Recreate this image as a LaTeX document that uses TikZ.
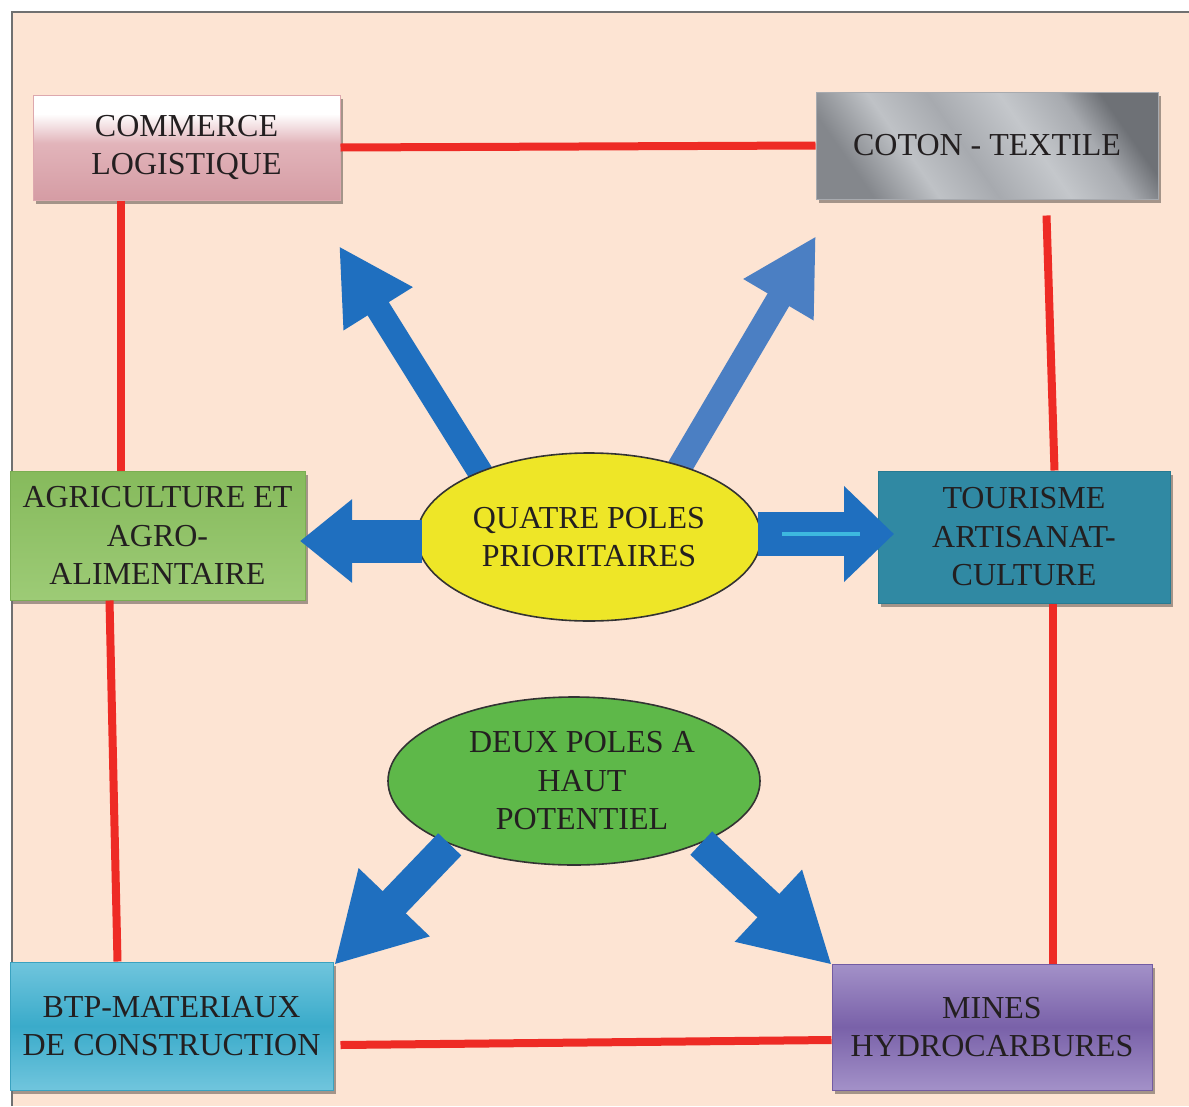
\documentclass[tikz,border=0pt]{standalone}
\usepackage{fontspec}
\setmainfont{Liberation Serif}
\usetikzlibrary{shapes.geometric,arrows.meta,shadows,calc}
\pgfdeclarelayer{bg}
\pgfsetlayers{bg,main}
\definecolor{peach}{HTML}{FDE4D3}
\definecolor{redl}{HTML}{EE2B25}
\definecolor{blueA}{HTML}{1F6FBF}
\definecolor{blueB}{HTML}{4B7FC3}
\definecolor{hilite}{HTML}{3DB8DF}
\definecolor{txt}{HTML}{231F20}
\definecolor{pkD}{HTML}{D59CA4}
\definecolor{pkM}{HTML}{E2B4BA}
\definecolor{pkB}{HTML}{DDA8AE}
\definecolor{mA}{HTML}{84878C}
\definecolor{mB}{HTML}{BFC2C6}
\definecolor{mC}{HTML}{A7AAAF}
\definecolor{mD}{HTML}{C4C7CB}
\definecolor{mE}{HTML}{6E7176}
\definecolor{grT}{HTML}{86BA5C}
\definecolor{grB}{HTML}{9DCB76}
\definecolor{grE}{HTML}{7AAE52}
\definecolor{teal}{HTML}{3089A3}
\definecolor{tealE}{HTML}{277A92}
\definecolor{cyM}{HTML}{3AABCA}
\definecolor{cyO}{HTML}{70C5DD}
\definecolor{cyE}{HTML}{3AA2C0}
\definecolor{puM}{HTML}{7961A9}
\definecolor{puO}{HTML}{A391C8}
\definecolor{puE}{HTML}{735CA3}
\definecolor{yel}{HTML}{EEE627}
\definecolor{grn}{HTML}{5EB849}
\definecolor{frame}{HTML}{707070}
\pgfdeclareverticalshading{comm}{100bp}{color(0bp)=(pkD); color(25bp)=(pkD); color(52bp)=(pkM); color(66bp)=(white); color(100bp)=(white)}
\pgfdeclarehorizontalshading{metal}{100bp}{color(0bp)=(mA); color(25bp)=(mA); color(36bp)=(mB); color(46bp)=(mC); color(58bp)=(mD); color(68bp)=(mC); color(75bp)=(mE); color(100bp)=(mE)}
\tikzset{
  box/.style={rectangle, inner sep=0pt, align=center, text=txt,
    font=\fontsize{32}{38.5}\selectfont, line width=1pt,
    drop shadow={shadow xshift=3pt, shadow yshift=-4pt, opacity=.35, fill=black}},
  pole/.style={ellipse, inner sep=0pt, align=center, text=txt,
    font=\fontsize{32}{38.5}\selectfont, draw=black!80, line width=1.6pt},
  link/.style={draw=redl, line width=8pt},
  fat/.style n args={3}{line width=#1, -{Triangle[length=#2, width=#3]}},
}
\begin{document}
\begin{tikzpicture}[x=1pt,y=-1pt]
\useasboundingbox (0,0) rectangle (1189,1106);
\begin{pgfonlayer}{bg}
\fill[white] (0,0) rectangle (1189,1106);
\fill[peach] (12,12) rectangle (1189,1106);
\draw[frame, line width=2.5pt] (12,1106) -- (12,12) -- (1189,12);
\end{pgfonlayer}

% boxes
\node[box, minimum width=307pt, minimum height=105pt, shading=comm, draw=pkB] (com) at (186.5,147.5) {COMMERCE\\LOGISTIQUE};
\node[box, minimum width=342pt, minimum height=107pt, shading=metal, shading angle=35, draw=mC] (cot) at (987,145.5) {COTON - TEXTILE};
\node[box, minimum width=295pt, minimum height=129pt, top color=grT, bottom color=grB, draw=grE] (agr) at (157.5,535.5) {AGRICULTURE ET\\AGRO-\\ALIMENTAIRE};
\node[box, minimum width=292pt, minimum height=132pt, fill=teal, draw=tealE] (tou) at (1024,537) {TOURISME\\ARTISANAT-\\CULTURE};
\node[box, minimum width=323pt, minimum height=128pt, top color=cyO, bottom color=cyO, middle color=cyM, draw=cyE] (btp) at (171.5,1026) {BTP-MATERIAUX\\DE CONSTRUCTION};
\node[box, minimum width=320pt, minimum height=126pt, top color=puO, bottom color=puO, middle color=puM, draw=puE] (min) at (992,1027) {MINES\\HYDROCARBURES};

% poles
\node[pole, fill=yel, minimum width=344pt, minimum height=168pt] (q) at (589,537) {QUATRE POLES\\PRIORITAIRES};
\node[pole, fill=grn, minimum width=372pt, minimum height=168pt] (d) at (574,781) {\hspace*{16pt}DEUX POLES A\\\hspace*{16pt}HAUT\\\hspace*{16pt}POTENTIEL};

% red links
\draw[link] (com.east) -- (cot.west);
\draw[link] ([xshift=88pt]com.south west) -- ([xshift=111pt]agr.north west);
\draw[link] ([xshift=100pt]agr.south west) -- ([xshift=108pt]btp.north west);
\draw[link] ([xshift=231pt,yshift=-16pt]cot.south west) -- ([xshift=177pt]tou.north west);
\draw[link] ([xshift=175pt]tou.south west) -- ([xshift=221pt]min.north west);
\draw[link] ([xshift=7pt,yshift=-19pt]btp.east) -- ([yshift=-13pt]min.west);

% arrow tips
\coordinate (tTL) at (339,246);
\coordinate (tTR) at (816,236);
\coordinate (tL) at (300,541);
\coordinate (tR) at (894,534);
\coordinate (tBL) at (334,965);
\coordinate (tBR) at (832,965);

\begin{pgfonlayer}{bg}
\draw[blueA, fat={25pt}{74pt}{76pt}] ($(q.149)!-8pt!(tTL)$) -- (tTL);
\draw[blueB, fat={25pt}{74pt}{76pt}] ($(q.38)!-8pt!(tTR)$) -- (tTR);
\end{pgfonlayer}
\draw[blueA, fat={32pt}{87pt}{92pt}] (d.207) -- (tBL);
\draw[blueA, fat={32pt}{87pt}{92pt}] (d.334) -- (tBR);
\draw[blueA, fat={43pt}{52pt}{80pt}] ([xshift=6pt,yshift=-4pt]q.west) -- (tL);
\draw[blueA, fat={44pt}{50pt}{93pt}] ([xshift=-4pt,yshift=3pt]q.east) -- (tR);
\draw[hilite, line width=4pt, shorten <=24pt, shorten >=34pt] ([xshift=-4pt,yshift=3pt]q.east) -- (tR);
\end{tikzpicture}
\end{document}
